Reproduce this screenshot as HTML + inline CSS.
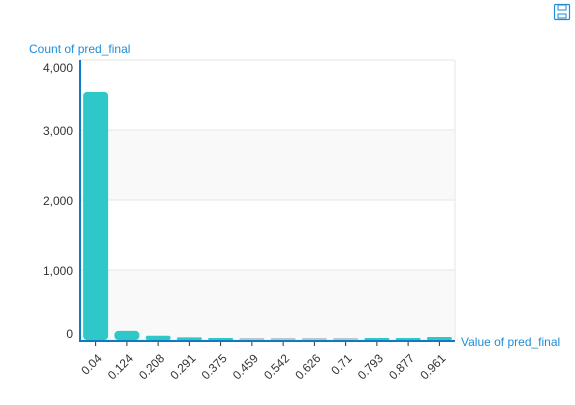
<!DOCTYPE html>
<html><head><meta charset="utf-8"><style>
body{margin:0;background:#fff;font-family:"Liberation Sans",sans-serif}
svg text{font-family:"Liberation Sans",sans-serif}
</style></head><body>
<svg id="c" width="575" height="400">
<g transform="translate(554,4)">
<rect x="0.5" y="0.5" width="15" height="15" rx="1" fill="none" stroke="#1f8dd6" stroke-width="1.2"/>
<rect x="4" y="1" width="8" height="5" fill="none" stroke="#1f8dd6"/>
<rect x="4" y="10" width="8" height="4" fill="none" stroke="#1f8dd6"/>
</g>
<text x="29" y="53" font-size="12" fill="#1f8dd6">Count of pred_final</text>
<text x="461" y="346" font-size="12" fill="#1f8dd6">Value of pred_final</text>
</svg>
<script>
const categories=["0.04","0.124","0.208","0.291","0.375","0.459","0.542","0.626","0.71","0.793","0.877","0.961"];
const counts=[3545,130,60,38,25,5,5,5,5,15,22,42];
const yTicks=[0,1000,2000,3000,4000];
const yTickLabels=["0","1,000","2,000","3,000","4,000"];
const svg=document.getElementById('c');const NS='http://www.w3.org/2000/svg';
const L=80,R=455,T=60,B=340,ymax=4000;
const y=v=>B-(v/ymax)*(B-T);
const bw=(R-L)/categories.length;
const x=i=>L+bw*i+bw/2;
function mk(t,a){const e=document.createElementNS(NS,t);for(const k in a)e.setAttribute(k,a[k]);svg.appendChild(e);return e;}
for(let i=0;i<yTicks.length-1;i++){
 const r=mk('rect',{x:L,y:y(yTicks[i+1]),width:R-L,height:y(yTicks[i])-y(yTicks[i+1]),fill:i%2==0?'#f9f9f9':'#fff'});
 
 
}
yTicks.forEach((v,i)=>{
 const l=mk('line',{x1:L,x2:R,y1:y(v),y2:y(v),stroke:'#e6e6e6'});
 
 
 const off=v==0?-2:(v==ymax?12:5);
 const t=mk('text',{x:73,y:y(v)+off,'font-size':12,fill:'#333','text-anchor':'end'});t.textContent=yTickLabels[i];
 
 
});
mk('line',{x1:R,x2:R,y1:T,y2:B,stroke:'#e6e6e6'});
categories.forEach((c,i)=>{
 const top=y(counts[i]);const h=Math.max(B-top,2);
 const b=mk('rect',{x:x(i)-12.5,y:B-h,width:25,height:h,rx:Math.min(4,h/2),fill:counts[i]<10?'#b8c8c8':'#2fc8c8'});
 
 
 mk('line',{x1:x(i),x2:x(i),y1:B+1,y2:B+6,stroke:'#333'});
 const t=mk('text',{'font-size':12,fill:'#333','text-anchor':'end',transform:`translate(${x(i)+7},${B+19}) rotate(-45)`});t.textContent=c;
 
 
});
const ya=mk('line',{x1:L,x2:L,y1:T,y2:B+2,stroke:'#0a7bc4','stroke-width':2});


const xa=mk('line',{x1:L-1,x2:R,y1:B+1,y2:B+1,stroke:'#0a7bc4','stroke-width':2});


</script>
</body></html>
